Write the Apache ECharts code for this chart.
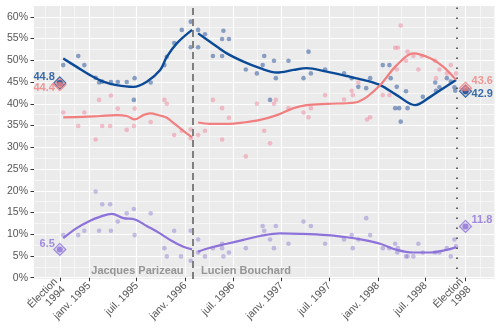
<!DOCTYPE html>
<html>
<head>
<meta charset="utf-8">
<script src="https://cdn.jsdelivr.net/npm/echarts@6/dist/echarts.min.js"></script>
<style>
  html, body { margin: 0; padding: 0; background: #ffffff; }
  #chart { width: 500px; height: 333px; }
</style>
</head>
<body>
<div id="chart"></div>
<script>
// Sondages sur les intentions de vote au Québec, 1994-1998

// Dates des graduations de l'axe horizontal et leurs libellés
const tickDates = ['1994-09-12', '1995-01-01', '1995-07-01', '1996-01-01', '1996-07-01',
                   '1997-01-01', '1997-07-01', '1998-01-01', '1998-07-01', '1998-11-30'];
const tickLabels = ['Élection\n1994', 'janv. 1995', 'juil. 1995', 'janv. 1996', 'juil. 1996',
                    'janv. 1997', 'juil. 1997', 'janv. 1998', 'juil. 1998', 'Élection\n1998'];
const yTicks = [0, 5, 10, 15, 20, 25, 30, 35, 40, 45, 50, 55, 60];
const yMinorTicks = [2.5, 7.5, 12.5, 17.5, 22.5, 27.5, 32.5, 37.5, 42.5, 47.5, 52.5, 57.5];

// Changement de premier ministre et déclenchement de l'élection
const changeDate = '1996-01-29';
const campaignDate = '1998-10-26';
const leaderBefore = 'Jacques Parizeau';
const leaderAfter = 'Lucien Bouchard';

// Résultats des élections (PQ, PLQ, ADQ)
const electionDates = ['1994-09-12', '1998-11-30'];
const pqResults = [44.8, 42.9];
const plqResults = [44.4, 43.6];
const adqResults = [6.5, 11.8];

// Sondages individuels
const pqPolls = [
  ['1994-09-25', 48.9], ['1994-11-21', 51.0], ['1994-12-14', 48.9], ['1995-01-26', 46.0],
  ['1995-02-08', 44.9], ['1995-02-20', 45.1], ['1995-03-25', 45.0], ['1995-04-20', 45.0],
  ['1995-05-24', 45.0], ['1995-06-23', 45.9], ['1995-06-20', 40.9], ['1995-08-23', 44.9],
  ['1995-10-14', 48.9], ['1995-10-23', 50.8], ['1995-11-20', 54.0], ['1995-12-19', 57.0],
  ['1996-01-22', 58.9], ['1996-01-22', 53.0], ['1996-02-19', 57.0], ['1996-02-19', 53.0],
  ['1996-03-16', 56.0], ['1996-04-15', 51.0], ['1996-05-20', 51.0], ['1996-05-20', 54.9],
  ['1996-05-25', 56.8], ['1996-06-15', 54.9], ['1996-08-18', 47.9], ['1996-09-29', 47.0],
  ['1996-10-27', 51.0], ['1996-10-21', 48.9], ['1996-12-03', 49.9], ['1996-12-10', 45.9],
  ['1996-11-18', 40.9], ['1997-01-27', 49.9], ['1997-04-13', 52.0], ['1997-03-25', 45.9],
  ['1997-04-22', 47.0], ['1997-06-15', 47.9], ['1997-08-26', 47.0], ['1997-09-24', 45.9],
  ['1997-10-19', 43.9], ['1997-11-18', 43.6], ['1997-12-03', 45.9], ['1998-01-20', 48.9],
  ['1998-02-14', 48.9], ['1998-02-19', 45.9], ['1998-03-14', 43.9], ['1998-04-18', 42.9],
  ['1998-03-08', 39.0], ['1998-03-23', 39.0], ['1998-04-24', 39.0], ['1998-03-29', 35.9],
  ['1998-06-21', 41.6], ['1998-08-07', 44.9], ['1998-08-10', 43.0], ['1998-08-23', 43.8],
  ['1998-09-20', 45.9], ['1998-10-05', 45.1], ['1998-10-19', 43.8], ['1998-10-22', 43.0]
];
const plqPolls = [
  ['1994-09-25', 38.0], ['1994-11-21', 34.9], ['1994-12-14', 38.0], ['1995-01-26', 31.8],
  ['1995-02-08', 40.9], ['1995-02-20', 34.9], ['1995-03-25', 41.9], ['1995-03-22', 34.9],
  ['1995-04-20', 38.9], ['1995-05-24', 34.0], ['1995-06-23', 38.9], ['1995-06-20', 34.9],
  ['1995-08-23', 35.8], ['1995-10-14', 40.9], ['1995-10-23', 40.0], ['1995-11-20', 32.8],
  ['1995-12-19', 33.8], ['1996-01-22', 34.1], ['1996-01-22', 32.1], ['1996-02-19', 32.8],
  ['1996-03-16', 33.8], ['1996-04-15', 40.9], ['1996-05-20', 39.0], ['1996-05-20', 31.8],
  ['1996-06-15', 36.8], ['1996-08-18', 27.9], ['1996-09-29', 40.0], ['1996-10-27', 33.8],
  ['1996-12-03', 40.0], ['1996-12-10', 40.9], ['1996-11-18', 30.9], ['1997-01-27', 39.0],
  ['1997-03-25', 38.0], ['1997-04-13', 36.9], ['1997-04-22', 39.0], ['1997-06-15', 42.0],
  ['1997-08-26', 41.0], ['1997-09-24', 43.0], ['1997-09-28', 42.0], ['1997-10-19', 44.9],
  ['1997-11-21', 36.4], ['1997-12-03', 36.9], ['1998-01-20', 42.0], ['1998-02-14', 42.0],
  ['1998-03-08', 52.9], ['1998-03-18', 52.9], ['1998-03-29', 58.0], ['1998-03-14', 47.9],
  ['1998-04-24', 52.0], ['1998-04-18', 49.9], ['1998-05-16', 51.0], ['1998-06-04', 47.9],
  ['1998-06-17', 51.0], ['1998-08-07', 49.9], ['1998-08-10', 45.9], ['1998-08-23', 47.9],
  ['1998-09-20', 47.0], ['1998-10-05', 48.9], ['1998-10-25', 47.0]
];
const adqPolls = [
  ['1994-09-25', 9.8], ['1994-11-21', 9.8], ['1994-12-14', 10.8], ['1995-01-26', 19.8],
  ['1995-02-08', 10.8], ['1995-02-20', 16.9], ['1995-03-22', 16.9], ['1995-03-25', 10.8],
  ['1995-04-20', 12.9], ['1995-05-24', 14.8], ['1995-06-20', 15.8], ['1995-06-23', 9.8],
  ['1995-08-23', 14.8], ['1995-10-14', 6.8], ['1995-10-23', 4.9], ['1995-11-20', 10.8],
  ['1995-12-16', 4.9], ['1996-01-22', 10.8], ['1996-01-22', 3.9], ['1996-02-19', 8.8],
  ['1996-02-19', 5.8], ['1996-03-16', 4.9], ['1996-04-15', 6.8], ['1996-05-20', 7.8],
  ['1996-05-20', 6.8], ['1996-05-25', 4.9], ['1996-06-15', 5.8], ['1996-08-18', 6.8],
  ['1996-10-21', 11.9], ['1996-10-27', 10.8], ['1996-11-18', 8.8], ['1996-12-03', 6.8],
  ['1996-12-10', 11.9], ['1997-01-27', 7.8], ['1997-03-25', 12.9], ['1997-04-22', 11.9],
  ['1997-06-15', 7.8], ['1997-08-26', 8.8], ['1997-09-24', 9.8], ['1997-09-28', 6.8],
  ['1997-10-19', 8.8], ['1997-11-18', 13.7], ['1997-12-03', 9.8], ['1998-01-20', 6.8],
  ['1998-02-14', 6.8], ['1998-03-08', 7.8], ['1998-03-18', 6.8], ['1998-03-16', 5.8],
  ['1998-04-18', 4.9], ['1998-04-24', 4.9], ['1998-05-16', 4.9], ['1998-06-04', 7.8],
  ['1998-06-21', 5.8], ['1998-08-07', 5.8], ['1998-08-23', 5.8], ['1998-09-20', 6.8],
  ['1998-10-05', 4.9], ['1998-10-19', 8.8], ['1998-10-25', 7.2]
];

// Tendances lissées, une par mandat
const pqTrendParizeau = [
  ['1994-09-25', 50.4], ['1994-11-15', 48.5], ['1995-01-05', 46.6], ['1995-02-24', 45.1],
  ['1995-04-15', 44.3], ['1995-06-18', 43.9], ['1995-08-08', 45.1], ['1995-09-28', 47.8],
  ['1995-10-23', 50.8], ['1995-11-30', 53.9], ['1996-01-27', 57.0]
];
const pqTrendBouchard = [
  ['1996-02-19', 56.2], ['1996-04-04', 54.3], ['1996-06-07', 51.6], ['1996-08-09', 49.7],
  ['1996-10-11', 48.2], ['1996-12-14', 47.2], ['1997-02-15', 47.8], ['1997-04-06', 48.2],
  ['1997-06-21', 47.4], ['1997-09-05', 46.4], ['1997-11-07', 45.5], ['1998-01-10', 44.3],
  ['1998-03-14', 42.0], ['1998-05-23', 39.7], ['1998-07-19', 41.6], ['1998-09-07', 43.6],
  ['1998-10-25', 45.5]
];
const plqTrendParizeau = [
  ['1994-09-25', 36.9], ['1994-12-10', 37.0], ['1995-02-11', 37.2], ['1995-04-16', 37.4],
  ['1995-05-24', 37.2], ['1995-06-24', 36.4], ['1995-07-26', 37.4], ['1995-08-20', 37.8],
  ['1995-09-27', 37.3], ['1995-10-23', 36.8], ['1995-11-17', 35.6], ['1995-12-25', 33.8],
  ['1996-01-27', 32.3]
];
const plqTrendBouchard = [
  ['1996-02-19', 35.7], ['1996-04-04', 35.4], ['1996-06-07', 35.4], ['1996-08-09', 35.7],
  ['1996-10-11', 36.3], ['1996-12-14', 37.4], ['1997-02-15', 39.0], ['1997-04-06', 39.7],
  ['1997-06-21', 40.0], ['1997-10-07', 40.3], ['1997-11-21', 41.6], ['1998-01-10', 44.3],
  ['1998-03-14', 48.9], ['1998-05-16', 51.6], ['1998-07-19', 50.5], ['1998-09-07', 48.5],
  ['1998-10-25', 45.5]
];
const adqTrendParizeau = [
  ['1994-09-25', 9.1], ['1994-11-15', 11.4], ['1995-01-05', 13.1], ['1995-02-11', 14.0],
  ['1995-03-28', 14.7], ['1995-05-11', 13.7], ['1995-06-24', 13.4], ['1995-08-08', 11.9],
  ['1995-09-27', 10.2], ['1995-11-10', 8.5], ['1995-12-25', 7.1], ['1996-01-27', 6.5]
];
const adqTrendBouchard = [
  ['1996-02-19', 6.0], ['1996-04-04', 6.9], ['1996-06-07', 7.8], ['1996-08-09', 8.7],
  ['1996-10-11', 9.6], ['1996-12-26', 10.2], ['1997-03-12', 10.1], ['1997-06-21', 9.8],
  ['1997-09-05', 9.3], ['1997-11-07', 8.7], ['1998-01-10', 7.8], ['1998-03-14', 6.4],
  ['1998-05-16', 5.8], ['1998-07-19', 5.8], ['1998-09-20', 6.4], ['1998-10-25', 7.0]
];

// Couleurs des partis
const PQ = '#0B4A97', PLQ = '#F07F7F', ADQ = '#8D72DA';
const FONT = 'Liberation Sans';

function ts(s) {
  const p = s.split('-').map(Number);
  return new Date(p[0], p[1] - 1, p[2]).getTime();
}
const asPoints = arr => arr.map(d => [ts(d[0]), d[1]]);

const tickTimes = tickDates.map(ts);
const labelFor = v => {
  let best = 0, bestDist = Infinity;
  tickTimes.forEach((t, i) => { const dd = Math.abs(t - v); if (dd < bestDist) { bestDist = dd; best = i; } });
  return tickLabels[best];
};
// Graduations secondaires à mi-chemin entre les graduations principales
const minorTimes = [];
minorTimes.push(tickTimes[0] - (tickTimes[1] - tickTimes[0]) / 2);
for (let i = 0; i < tickTimes.length - 1; i++) minorTimes.push((tickTimes[i] + tickTimes[i + 1]) / 2);
minorTimes.push(tickTimes[tickTimes.length - 1] + (tickTimes[1] - tickTimes[0]) / 2);

const xMin = ts('1994-06-06'), xMax = ts('1999-03-20');

function pollSeries(name, data, color) {
  return {
    name, type: 'scatter', data: asPoints(data), symbolSize: 4.6, z: 3,
    itemStyle: { color }, silent: true
  };
}
function trendSeries(name, data, color, width) {
  return {
    name, type: 'line', data: asPoints(data), smooth: 0.35, showSymbol: false, z: 5,
    lineStyle: { color, width }, silent: true
  };
}
function resultSeries(values, color, fill, labels) {
  const pts = electionDates.map((d, i) => [ts(d), values[i]]);
  return [
    { type: 'scatter', data: pts, symbol: 'diamond', symbolSize: 12, z: 6, silent: true,
      itemStyle: { color: fill, borderColor: color, borderWidth: 1.2 } },
    { type: 'scatter', data: pts.map((p, i) => ({
        value: p,
        label: Object.assign({ show: true, formatter: String(values[i]), color, fontFamily: FONT,
          fontWeight: 'bold', fontSize: 11, distance: 2 }, labels[i])
      })),
      symbol: 'circle', symbolSize: 6, z: 7, silent: true, itemStyle: { color } }
  ];
}

const chart = echarts.init(document.getElementById('chart'), null, { renderer: 'canvas' });
chart.setOption({
  animation: false,
  backgroundColor: '#ffffff',
  grid: { left: 34, right: 5.5, top: 6, bottom: 54, show: true, backgroundColor: '#EBEBEB', borderWidth: 0 },
  xAxis: [
    {
      type: 'value', min: xMin, max: xMax,
      axisLine: { show: false },
      axisTick: { show: true, customValues: tickTimes, length: 3.5, lineStyle: { color: '#333333', width: 1 } },
      axisLabel: { customValues: tickTimes, rotate: 45, margin: 5, color: '#555555', fontFamily: FONT,
                   fontSize: 10.5, lineHeight: 11, formatter: v => labelFor(v), hideOverlap: false },
      splitLine: { show: true, lineStyle: { color: '#ffffff', width: 1.1 } }
    },
    {
      type: 'value', min: xMin, max: xMax, position: 'bottom',
      axisLine: { show: false }, axisTick: { show: false, customValues: minorTimes },
      axisLabel: { show: false, customValues: minorTimes },
      splitLine: { show: true, lineStyle: { color: '#ffffff', width: 0.55 } }
    }
  ],
  yAxis: [
    {
      type: 'value', min: -0.3, max: 62.5,
      axisLine: { show: false },
      axisTick: { show: true, customValues: yTicks, length: 3.5, lineStyle: { color: '#333333', width: 1 } },
      axisLabel: { customValues: yTicks, formatter: v => v + '%', margin: 6, color: '#555555',
                   fontFamily: FONT, fontSize: 10.5 },
      splitLine: { show: true, lineStyle: { color: '#ffffff', width: 1.1 } }
    },
    {
      type: 'value', min: -0.3, max: 62.5, position: 'left',
      axisLine: { show: false }, axisTick: { show: false, customValues: yMinorTicks },
      axisLabel: { show: false, customValues: yMinorTicks },
      splitLine: { show: true, lineStyle: { color: '#ffffff', width: 0.55 } }
    }
  ],
  series: [
    pollSeries('PQ', pqPolls, 'rgba(30, 75, 150, 0.62)'),
    pollSeries('PLQ', plqPolls, 'rgba(240, 120, 145, 0.55)'),
    pollSeries('ADQ', adqPolls, 'rgba(125, 105, 200, 0.5)'),
    trendSeries('PQ', pqTrendParizeau, PQ, 2.4),
    trendSeries('PQ', pqTrendBouchard, PQ, 2.4),
    trendSeries('PLQ', plqTrendParizeau, PLQ, 2.2),
    trendSeries('PLQ', plqTrendBouchard, PLQ, 2.2),
    trendSeries('ADQ', adqTrendParizeau, ADQ, 2.2),
    trendSeries('ADQ', adqTrendBouchard, ADQ, 2.2),
    // Repères verticaux : changement de chef et déclenchement des élections
    {
      type: 'line', data: [], z: 4, silent: true,
      markLine: {
        silent: true, symbol: ['none', 'none'], label: { show: false }, animation: false,
        data: [
          { xAxis: ts(changeDate), lineStyle: { color: '#7F7F7F', width: 2, type: [7, 4] } },
          { xAxis: ts(campaignDate), lineStyle: { color: '#333333', width: 1.5, type: [1.6, 8.4] } }
        ]
      }
    },
    // Noms des premiers ministres
    {
      type: 'scatter', symbolSize: 0, z: 8, silent: true,
      data: [
        { value: [ts(changeDate), 1.5], label: { show: true, position: 'left', distance: 9, formatter: leaderBefore } },
        { value: [ts(changeDate), 1.5], label: { show: true, position: 'right', distance: 8.5, formatter: leaderAfter } }
      ],
      label: { color: '#808080', fontFamily: FONT, fontWeight: 'bold', fontSize: 11 }
    },
    ...resultSeries(pqResults, PQ, 'rgba(11, 74, 151, 0.25)',
      [{ position: 'left', offset: [0, -6] }, { position: 'right', offset: [1, 3] }]),
    ...resultSeries(plqResults, PLQ, 'rgba(240, 127, 127, 0.3)',
      [{ position: 'left', offset: [0, 3.5] }, { position: 'right', offset: [1, -7] }]),
    ...resultSeries(adqResults, ADQ, 'rgba(141, 114, 218, 0.25)',
      [{ position: 'left', offset: [0, -5.5] }, { position: 'right', offset: [1, -6.5] }])
  ]
});
</script>
</body>
</html>
